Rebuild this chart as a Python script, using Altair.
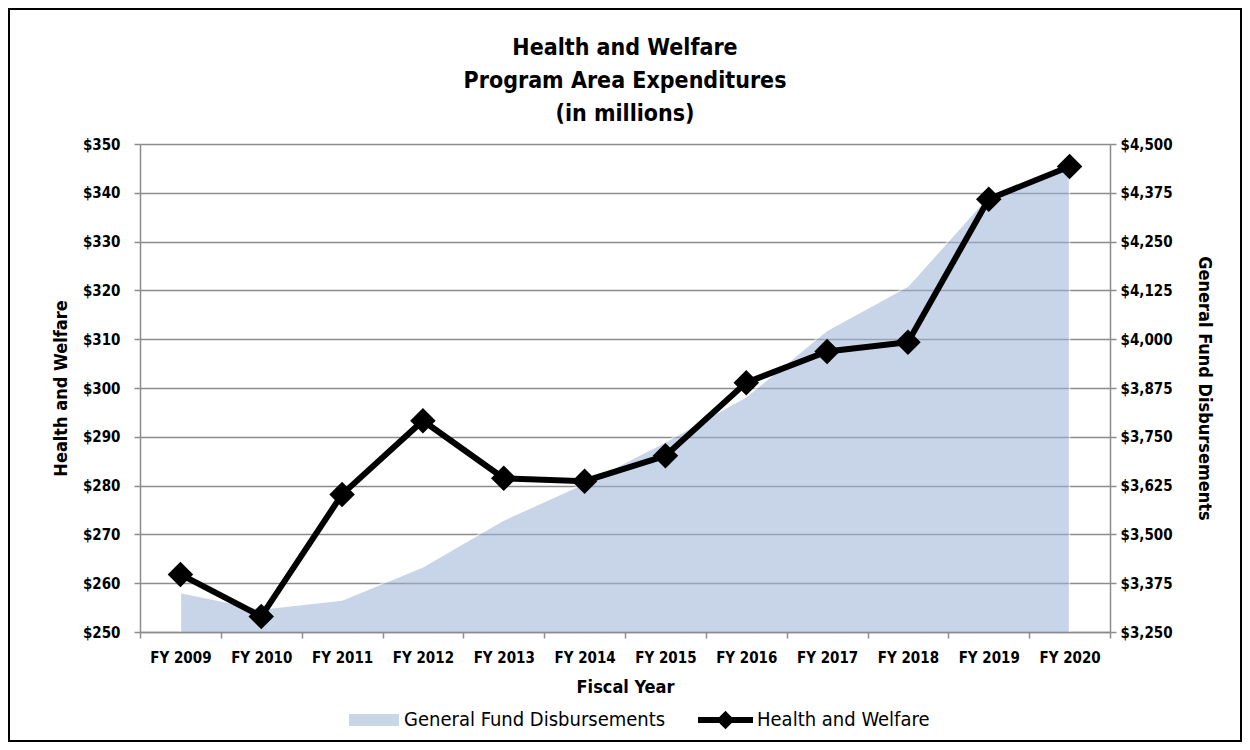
import altair as alt
import pandas as pd

years = ["FY 2009", "FY 2010", "FY 2011", "FY 2012", "FY 2013", "FY 2014",
         "FY 2015", "FY 2016", "FY 2017", "FY 2018", "FY 2019", "FY 2020"]
health_welfare = [261.8, 253.2, 278.2, 293.3, 281.5, 280.9,
                  286.1, 301.1, 307.5, 309.4, 338.7, 345.4]
general_fund = [3351, 3309, 3332, 3417, 3537, 3631,
                3737, 3853, 4023, 4136, 4367, 4435]
left_ticks = list(range(250, 351, 10))
right_ticks = list(range(3250, 4501, 125))

df = pd.DataFrame({
    "year": years,
    "hw": health_welfare,
    "gf": general_fund,
    "s1": "General Fund Disbursements",
    "s2": "Health and Welfare",
})

FONT = "Liberation Sans Narrow, DejaVu Sans Condensed, sans-serif"
GRAY = "#8c8c8c"

x_enc = alt.X(
    "year:N", sort=years,
    scale=alt.Scale(type="band", paddingInner=0, paddingOuter=0),
    axis=alt.Axis(title="Fiscal Year", labelAngle=0, tickBand="extent",
                  domainColor=GRAY, tickColor=GRAY, tickSize=6, tickWidth=1.5,
                  domainWidth=1.5, labelFont=FONT, labelFontSize=15,
                  labelFontWeight="bold", labelColor="black", labelPadding=12,
                  titleFont=FONT, titleFontSize=18, titleFontWeight="bold",
                  titleColor="black", titlePadding=13, grid=False),
)

base = alt.Chart(df)

area = base.mark_area(opacity=0.55, stroke="white", strokeWidth=1.5,
                      clip=True).encode(
    x=x_enc,
    y=alt.Y("gf:Q", scale=alt.Scale(domain=[3250, 4500], nice=False, zero=False),
            axis=alt.Axis(orient="right", values=right_ticks, format="$,d",
                          title="General Fund Disbursements", grid=False,
                          domainColor=GRAY, domainWidth=1.5, tickColor=GRAY,
                          tickWidth=1.5, tickSize=6, labelFont=FONT,
                          labelFontSize=15, labelFontWeight="bold",
                          labelColor="black", labelPadding=4,
                          titleFont=FONT, titleFontSize=18, titleColor="black",
                          titleFontWeight="bold", titlePadding=22)),
    fill=alt.Fill("s1:N", scale=alt.Scale(range=["#9CB4D6"]),
                  legend=alt.Legend(orient="none", legendX=204, legendY=566,
                                    title=None,
                                    symbolType="M-1,-1.2H9V1.2H-1Z",
                                    symbolSize=100, labelOffset=40,
                                    labelLimit=500,
                                    labelFont=FONT, labelFontSize=20,
                                    labelColor="black", symbolStrokeWidth=0)),
)

line = base.mark_line(strokeWidth=6).encode(
    x=x_enc,
    y=alt.Y("hw:Q", scale=alt.Scale(domain=[250, 350], nice=False, zero=False),
            axis=alt.Axis(orient="left", values=left_ticks, format="$,d",
                          title="Health and Welfare", grid=True,
                          gridColor=GRAY, gridWidth=1.5,
                          domainColor=GRAY, domainWidth=1.5, tickColor=GRAY,
                          tickWidth=1.5, tickSize=6, labelFont=FONT,
                          labelFontSize=15, labelFontWeight="bold",
                          labelColor="black", labelPadding=14,
                          titleFont=FONT, titleFontSize=18, titleColor="black",
                          titleFontWeight="bold", titlePadding=12)),
    stroke=alt.Stroke("s2:N", scale=alt.Scale(range=["black"]),
                      legend=alt.Legend(orient="none", legendX=553, legendY=566,
                                        title=None,
                                        symbolType="M-1,0H10M4.5,-1L5.5,0L4.5,1L3.5,0Z",
                                        symbolSize=100, symbolStrokeWidth=6,
                                        symbolFillColor="black",
                                        labelOffset=44, labelLimit=500,
                                        labelFont=FONT,
                                        labelFontSize=20, labelColor="black")),
)

points = base.mark_point(shape="diamond", filled=True, size=650, color="black",
                         opacity=1).encode(
    x=x_enc,
    y=alt.Y("hw:Q", scale=alt.Scale(domain=[250, 350], nice=False, zero=False)),
)

frame = alt.Chart(alt.Data(values=[{}])).mark_rect(
    fill=None, stroke="black", strokeWidth=2).encode(
    x=alt.value(-131), x2=alt.value(1101), y=alt.value(-135), y2=alt.value(597))

chart = alt.layer(area, alt.layer(line, points), frame).resolve_scale(
    y="independent", fill="independent", stroke="independent"
).properties(
    width=970, height=488,
    autosize=alt.AutoSizeParams(type="none"),
    padding={"left": 132, "top": 136, "right": 132, "bottom": 110},
    title=alt.TitleParams(
        text=["Health and Welfare", "Program Area Expenditures", "(in millions)"],
        font=FONT, fontSize=23, fontWeight="bold", color="black",
        anchor="middle", lineHeight=33, offset=-118),
).configure_view(stroke=None)

chart.save("out.html", embed_options={"renderer": "svg", "actions": False})
